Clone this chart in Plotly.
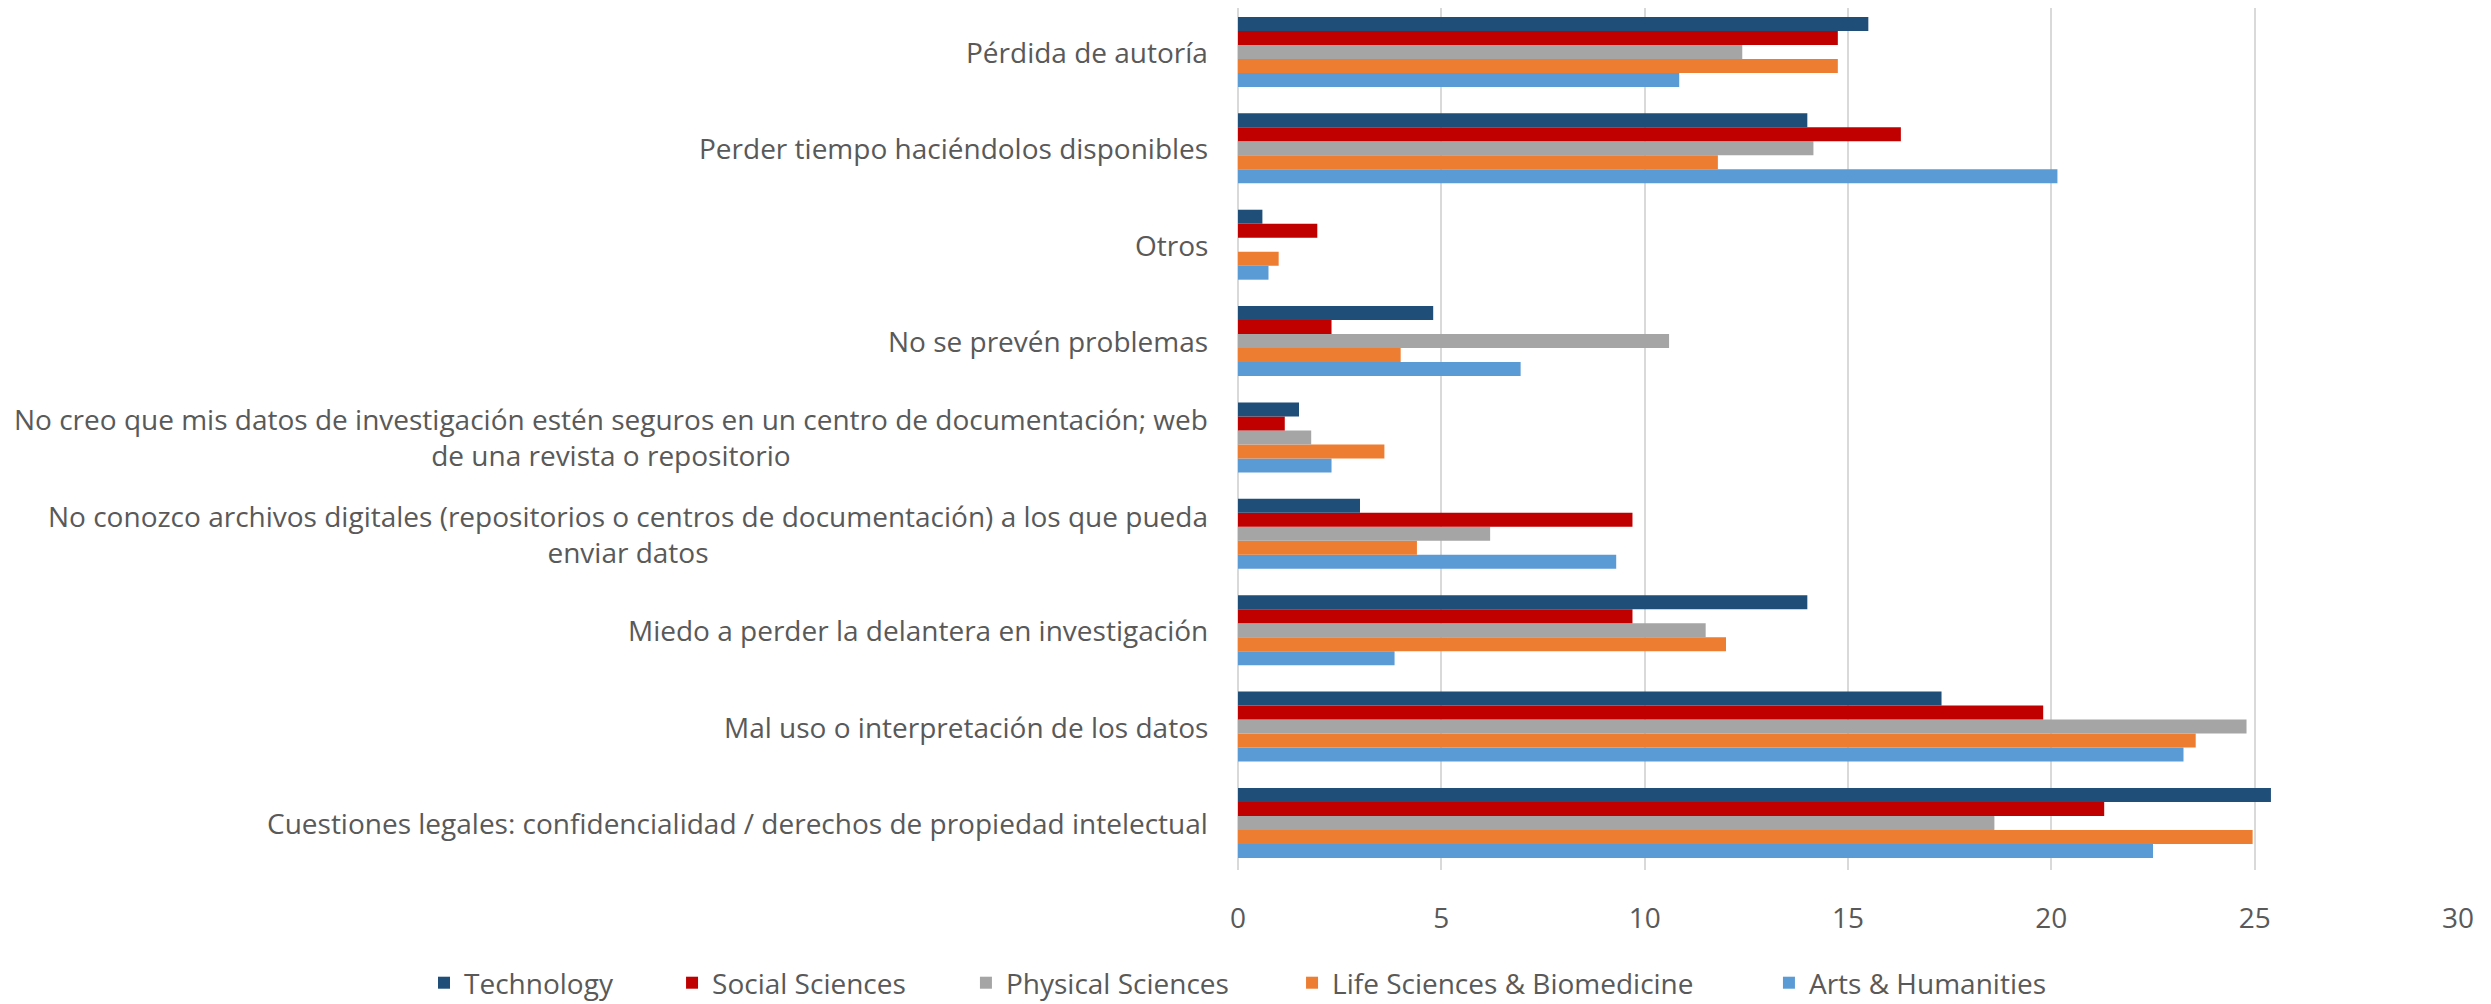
import plotly.graph_objects as go

# categorías de abajo hacia arriba
categories = [
    "Cuestiones legales: confidencialidad / derechos de propiedad intelectual",
    "Mal uso o interpretación de los datos",
    "Miedo a perder la delantera en investigación",
    "No conozco archivos digitales (repositorios o centros de documentación) a los que pueda<br>enviar datos",
    "No creo que mis datos de investigación estén seguros en un centro de documentación; web<br>de una revista o repositorio",
    "No se prevén problemas",
    "Otros",
    "Perder tiempo haciéndolos disponibles",
    "Pérdida de autoría",
]

technology = [25.4, 17.3, 14.0, 3.0, 1.5, 4.8, 0.6, 14.0, 15.5]
social_sciences = [21.3, 19.8, 9.7, 9.7, 1.15, 2.3, 1.95, 16.3, 14.75]
physical_sciences = [18.6, 24.8, 11.5, 6.2, 1.8, 10.6, 0, 14.15, 12.4]
life_sciences = [24.95, 23.55, 12.0, 4.4, 3.6, 4.0, 1.0, 11.8, 14.75]
arts_humanities = [22.5, 23.25, 3.85, 9.3, 2.3, 6.95, 0.75, 20.15, 10.85]

# nombre, valores, color, leyenda propia, posición x de la leyenda (paper)
series = [
    ("Arts & Humanities", arts_humanities, "#5b9bd5", "legend5", 0.4352),
    ("Life Sciences & Biomedicine", life_sciences, "#ed7d31", "legend4", 0.0443),
    ("Physical Sciences", physical_sciences, "#a5a5a5", "legend3", -0.2230),
    ("Social Sciences", social_sciences, "#c00000", "legend2", -0.4639),
    ("Technology", technology, "#1f4e79", "legend", -0.6672),
]

font_name = "Open Sans, Roboto, sans-serif"
text_color = "#595959"
font_size = 28

fig = go.Figure()

# se añaden al revés para que Technology quede arriba en cada grupo
for name, values, color, legend_id, _ in series:
    fig.add_trace(
        go.Bar(
            y=categories,
            x=values,
            name=name,
            orientation="h",
            marker=dict(color=color, line=dict(width=0)),
            legend=legend_id,
            showlegend=True,
        )
    )

# etiquetas de categoría como anotaciones (segunda línea centrada)
for cat in categories:
    fig.add_annotation(
        x=0,
        xref="paper",
        y=cat,
        yref="y",
        text=cat,
        showarrow=False,
        xanchor="right",
        yanchor="middle",
        align="center",
        xshift=-28,
        font=dict(family=font_name, size=font_size, color=text_color),
    )

# una leyenda por serie para fijar la separación entre entradas
legends = {}
for name, values, color, legend_id, lx in series:
    legends[legend_id] = dict(
        orientation="h",
        xref="paper",
        x=lx,
        xanchor="left",
        yref="paper",
        y=-0.1311,
        yanchor="middle",
        font=dict(family=font_name, size=font_size, color=text_color),
        itemwidth=30,
        bgcolor="rgba(0,0,0,0)",
    )

fig.update_layout(
    width=2491,
    height=1004,
    margin=dict(l=1230, r=41, t=0, b=142, autoexpand=False),
    paper_bgcolor="white",
    plot_bgcolor="white",
    showlegend=True,
    barmode="group",
    bargap=0.274,
    bargroupgap=0,
    font=dict(family=font_name, size=font_size, color=text_color),
    xaxis=dict(
        range=[0, 30],
        dtick=5,
        showgrid=True,
        gridcolor="#d9d9d9",
        gridwidth=1.5,
        zeroline=True,
        zerolinecolor="#d9d9d9",
        zerolinewidth=1.5,
        showline=False,
        ticks="",
        ticklabelstandoff=29,
        tickfont=dict(family=font_name, size=font_size, color=text_color),
    ),
    yaxis=dict(
        showticklabels=False,
        showgrid=False,
        ticks="",
        categoryorder="array",
        categoryarray=categories,
        range=[-0.488, 8.456],
    ),
    **legends,
)

fig.write_html("out.html")
